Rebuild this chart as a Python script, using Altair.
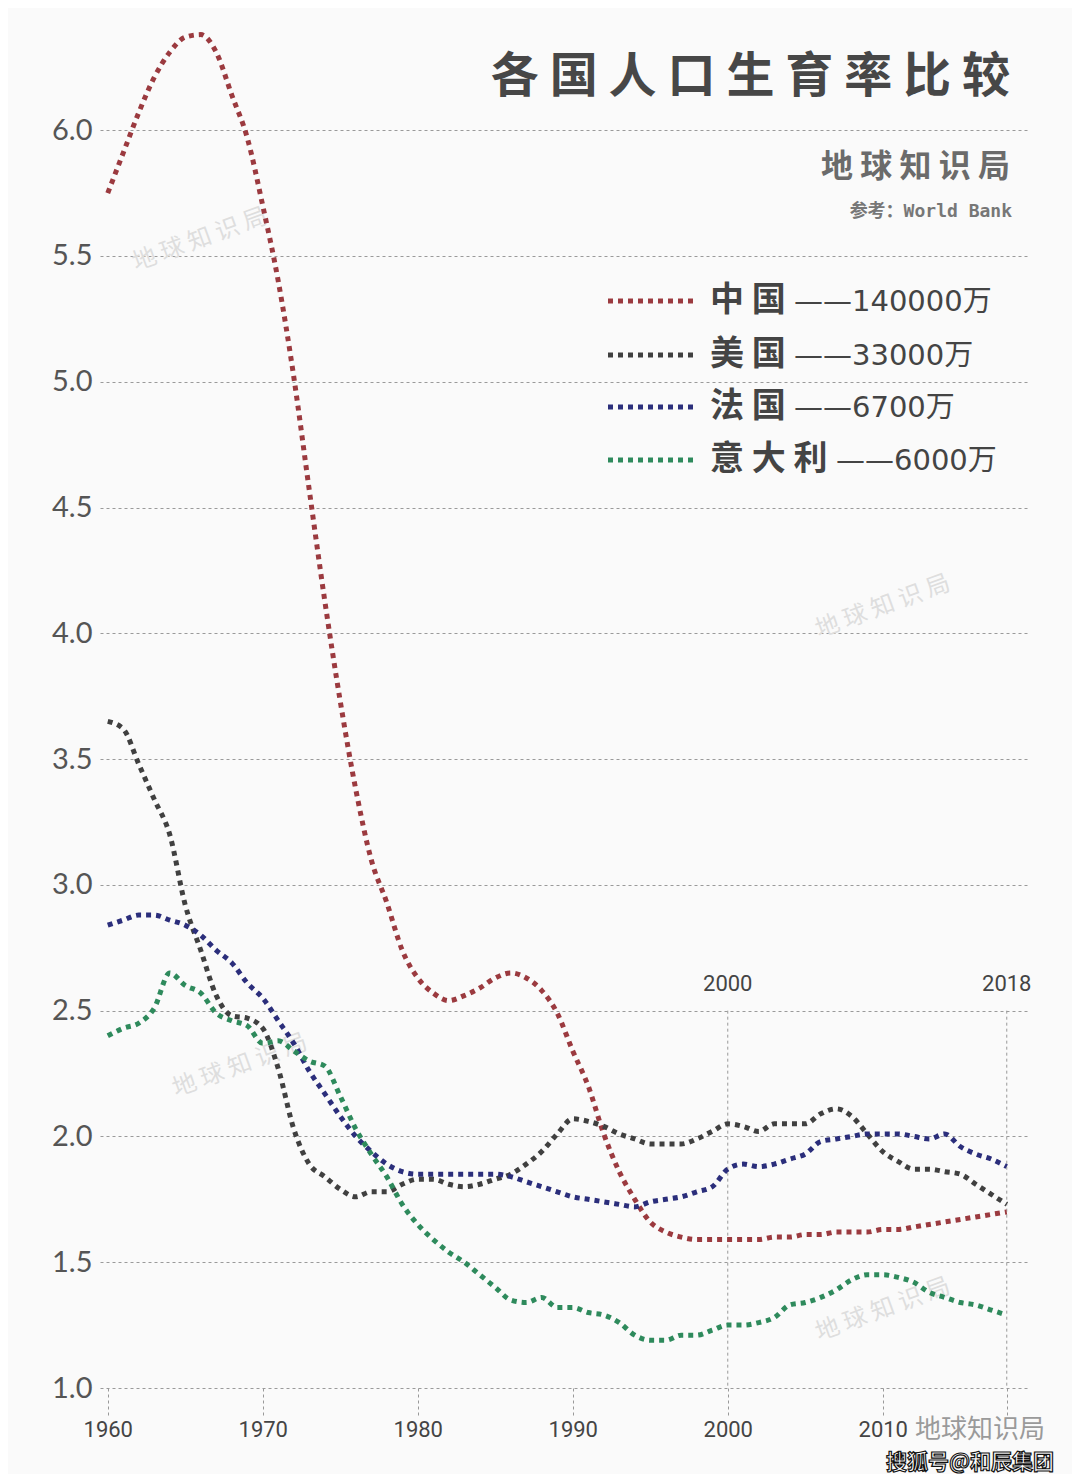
import altair as alt
import pandas as pd

# ---------------- data ----------------
years = list(range(1960, 2019))
countries = ["中国", "美国", "法国", "意大利"]
legend_names = ["中 国", "美 国", "法 国", "意 大 利"]
legend_pops = ["——140000万", "——33000万", "——6700万", "——6000万"]
colors = ["#9b3a3f", "#404040", "#2b2e7b", "#2e8a5c"]

china = [5.75, 5.91, 6.07, 6.21, 6.31, 6.37, 6.38, 6.31, 6.14, 5.97,
         5.70, 5.40, 5.02, 4.57, 4.13, 3.73, 3.38, 3.10, 2.93, 2.74,
         2.63, 2.57, 2.54, 2.56, 2.59, 2.63, 2.65, 2.63, 2.58, 2.49,
         2.34, 2.20, 2.01, 1.86, 1.75, 1.66, 1.62, 1.60, 1.59, 1.59,
         1.59, 1.59, 1.59, 1.60, 1.60, 1.61, 1.61, 1.62, 1.62, 1.62,
         1.63, 1.63, 1.64, 1.65, 1.66, 1.67, 1.68, 1.69, 1.70]
usa = [3.65, 3.62, 3.48, 3.34, 3.20, 2.92, 2.74, 2.56, 2.48, 2.47,
       2.43, 2.27, 2.03, 1.89, 1.84, 1.79, 1.76, 1.78, 1.78, 1.81,
       1.83, 1.83, 1.81, 1.80, 1.81, 1.83, 1.85, 1.89, 1.94, 2.01,
       2.07, 2.06, 2.04, 2.01, 1.99, 1.97, 1.97, 1.97, 1.99, 2.02,
       2.05, 2.04, 2.02, 2.05, 2.05, 2.05, 2.09, 2.11, 2.08, 2.01,
       1.94, 1.90, 1.87, 1.87, 1.86, 1.85, 1.81, 1.77, 1.73]
france = [2.84, 2.86, 2.88, 2.88, 2.86, 2.84, 2.80, 2.74, 2.69, 2.61,
          2.55, 2.46, 2.37, 2.26, 2.17, 2.08, 2.00, 1.94, 1.89, 1.86,
          1.85, 1.85, 1.85, 1.85, 1.85, 1.85, 1.84, 1.82, 1.80, 1.78,
          1.76, 1.75, 1.74, 1.73, 1.72, 1.74, 1.75, 1.76, 1.78, 1.80,
          1.87, 1.89, 1.88, 1.89, 1.91, 1.93, 1.98, 1.99, 2.00, 2.01,
          2.01, 2.01, 2.00, 1.99, 2.01, 1.96, 1.93, 1.91, 1.88]
italy = [2.40, 2.43, 2.45, 2.51, 2.65, 2.60, 2.57, 2.49, 2.46, 2.44,
         2.37, 2.38, 2.34, 2.30, 2.28, 2.16, 2.03, 1.93, 1.84, 1.73,
         1.65, 1.59, 1.54, 1.50, 1.45, 1.40, 1.35, 1.34, 1.36, 1.32,
         1.32, 1.30, 1.29, 1.26, 1.21, 1.19, 1.19, 1.21, 1.21, 1.23,
         1.25, 1.25, 1.26, 1.28, 1.33, 1.34, 1.36, 1.39, 1.43, 1.45,
         1.45, 1.44, 1.42, 1.38, 1.36, 1.34, 1.33, 1.31, 1.29]

x_ticks = [1960, 1970, 1980, 1990, 2000, 2010, 2018]
y_ticks = [1.0, 1.5, 2.0, 2.5, 3.0, 3.5, 4.0, 4.5, 5.0, 5.5, 6.0]
marked_years = [2000, 2018]
marked_labels = ["2000", "2018"]

title_text = "各 国 人 口 生 育 率 比 较"
brand_text = "地 球 知 识 局"
source_text = "参考：World Bank"
mark_text_faint = "地 球 知 识 局"
footer_brand = "地球知识局"
footer_sohu = "搜狐号@和辰集团"

# ---------------- build tables ----------------
rows = []
for name, vals in zip(countries, [china, usa, france, italy]):
    for yr, v in zip(years, vals):
        rows.append({"year": yr, "tfr": v, "country": name})
df = pd.DataFrame(rows)

refs = pd.DataFrame({"year": marked_years, "top": [2.5] * len(marked_years),
                     "bot": [1.0] * len(marked_years), "label": marked_labels})

CJK = "Noto Sans CJK SC"
XFONT = "Liberation Sans Narrow, Roboto, sans-serif"
YFONT = "Lato, Open Sans, sans-serif"

xscale = alt.Scale(domain=[1959.5, 2019.5], nice=False, zero=False)
yscale = alt.Scale(domain=[1.0, 6.45], nice=False, zero=False)
xaxis = alt.Axis(values=x_ticks, format="d", title=None, grid=False, domain=False,
                 labelExpr="datum.value == 2018 ? '' : datum.label",
                 tickSize=27, tickDash=[3, 3], tickColor="#999999", tickWidth=1,
                 labelPadding=4, labelFontSize=22, labelFont=XFONT, labelColor="#444444",
                 labelOverlap=False)
yaxis = alt.Axis(values=y_ticks, format=".1f", title=None, domain=False, ticks=False,
                 grid=True, gridDash=[3, 3], gridColor="#9a9a9a", gridWidth=1,
                 labelPadding=8, labelFontSize=29, labelFont=YFONT, labelColor="#555555",
                 labelOverlap=False)


def X(f):
    return alt.X(f, type="quantitative", scale=xscale, axis=xaxis)


def Y(f):
    return alt.Y(f, type="quantitative", scale=yscale, axis=yaxis)


lines = alt.Chart(df).mark_line(
    strokeWidth=5, strokeDash=[5, 5], strokeCap="butt", interpolate="monotone"
).encode(
    x=X("year"), y=Y("tfr"),
    color=alt.Color("country:N", scale=alt.Scale(domain=countries, range=colors), legend=None),
    detail="country:N",
)

ref_rules = alt.Chart(refs).mark_rule(strokeDash=[3, 3], color="#999999", strokeWidth=1).encode(
    x=X("year"), y=Y("top"), y2="bot:Q"
)
ref_labels = alt.Chart(refs).mark_text(
    dy=-27, fontSize=22, font=XFONT, color="#444444", baseline="middle"
).encode(x=X("year"), y=Y("top"), text="label:N")


def text_layer(txt, x, y, **kw):
    return alt.Chart(pd.DataFrame({"t": [txt]})).mark_text(**kw).encode(
        x=alt.value(x), y=alt.value(y), text="t:N"
    )


layers = []
# faint watermarks
for (wx, wy) in [(100, 223), (140, 1049), (783, 590), (783, 1293)]:
    layers.append(text_layer(mark_text_faint, wx, wy, angle=340, fontSize=24, font=CJK,
                             color="#dedede", align="center", baseline="middle"))

layers += [ref_rules, lines, ref_labels]

layers.append(text_layer(title_text, 910, 61, align="right", baseline="middle",
                         fontSize=48, fontWeight="bold", font=CJK, color="#474747"))
layers.append(text_layer(brand_text, 910, 150, align="right", baseline="middle",
                         fontSize=32, fontWeight="bold", font=CJK, color="#6b6b6b"))
layers.append(text_layer(source_text, 912, 195, align="right", baseline="middle",
                         fontSize=18, fontWeight="bold", font="DejaVu Sans Mono, " + CJK,
                         color="#777777"))

# manual legend
leg_y = [284, 338, 390, 443]
for i in range(len(countries)):
    yy = leg_y[i]
    layers.append(
        alt.Chart(pd.DataFrame({"c": [countries[i]]})).mark_rule(
            strokeWidth=5, strokeDash=[5, 5], strokeCap="butt", color=colors[i]
        ).encode(x=alt.value(508), x2=alt.value(595), y=alt.value(yy))
    )
    layers.append(text_layer(legend_names[i], 610, yy, align="left", baseline="middle",
                             fontSize=34, fontWeight="bold", font=CJK, color="#444444"))
    nchars = len(legend_names[i].replace(" ", ""))
    layers.append(text_layer(legend_pops[i], 610 + nchars * 42, yy + 1, align="left",
                             baseline="middle", fontSize=29, font="DejaVu Sans, " + CJK,
                             color="#444444"))

# footer watermark
layers.append(text_layer(footer_brand, 880, 1413, align="center", baseline="middle",
                         fontSize=26, font=CJK, color="#9a9a9a"))
layers.append(text_layer(footer_sohu, 870, 1446, align="center", baseline="middle",
                         fontSize=21, fontWeight="bold", font=CJK, color="#ffffff",
                         stroke="#111111", strokeWidth=1.2))

chart = alt.layer(*layers).properties(
    width=930, height=1371,
    padding={"left": 92, "top": 9, "right": 42, "bottom": 86},
    autosize=alt.AutoSizeParams(type="none"),
    background="#fafafa",
).configure_view(stroke=None)

chart.save("out.html", embed_options={"renderer": "svg", "actions": False})
